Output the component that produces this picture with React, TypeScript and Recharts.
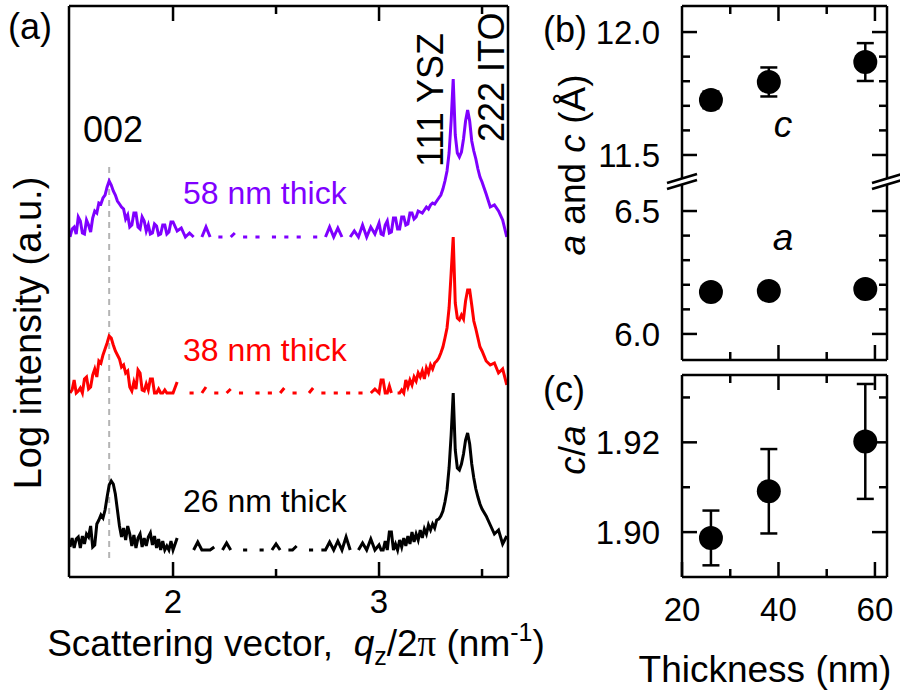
import React from 'react';
import {
  LineChart,
  Line,
  XAxis,
  YAxis,
  ReferenceLine,
  ScatterChart,
  Scatter,
  ErrorBar,
} from 'recharts';

const FONT = '"Liberation Sans", Arial, Helvetica, sans-serif';
const W = 900;
const H = 693;
const INK = '#000';
const PURPLE = '#7f00ff';
const RED = '#ff0000';

// ---------- (a) XRD scans: log intensity above background, null = zero counts ----------
const qValues = [
  // 1.50 - 2.00
  1.5, 1.51, 1.52, 1.53, 1.54, 1.55, 1.56, 1.57, 1.58, 1.59,
  1.6, 1.61, 1.62, 1.63, 1.64, 1.65, 1.66, 1.67, 1.68, 1.69,
  1.7, 1.71, 1.72, 1.73, 1.74, 1.75, 1.76, 1.77, 1.78, 1.79,
  1.8, 1.81, 1.82, 1.83, 1.84, 1.85, 1.86, 1.87, 1.88, 1.89,
  1.9, 1.91, 1.92, 1.93, 1.94, 1.95, 1.96, 1.97, 1.98, 1.99, 2.0,
  // 2.02 - 2.98
  2.02, 2.04, 2.06, 2.08, 2.1, 2.12, 2.14, 2.16, 2.18, 2.2,
  2.22, 2.24, 2.26, 2.28, 2.3, 2.32, 2.34, 2.36, 2.38, 2.4,
  2.42, 2.44, 2.46, 2.48, 2.5, 2.52, 2.54, 2.56, 2.58, 2.6,
  2.62, 2.64, 2.66, 2.68, 2.7, 2.72, 2.74, 2.76, 2.78, 2.8,
  2.82, 2.84, 2.86, 2.88, 2.9, 2.92, 2.94, 2.96, 2.98,
  // 3.00 - 3.50
  3.0, 3.01, 3.02, 3.03, 3.04, 3.05, 3.06, 3.07, 3.08, 3.09,
  3.1, 3.11, 3.12, 3.13, 3.14, 3.15, 3.16, 3.17, 3.18, 3.19,
  3.2, 3.21, 3.22, 3.23, 3.24, 3.25, 3.26, 3.27, 3.28,
  3.29, 3.3, 3.31, 3.32, 3.33, 3.34, 3.35, 3.36, 3.37, 3.38, 3.39,
  3.4, 3.41, 3.42, 3.43, 3.44, 3.45, 3.46, 3.47, 3.48, 3.49, 3.5,
  // 3.52 - 3.62
  3.52, 3.54, 3.56, 3.58, 3.6, 3.62,
];

const logI26 = [
  0.3, 1.2, 0.2, 1.1, 1.3, 0.2, 1.4, 0.6, 1.6, 1.3,
  2.4, 0.3, 0.5, 2.6, 3.0, 3.5, 3.2, 4.0, 5.3, 6.5,
  6.9, 6.6, 5.6, 4.0, 2.4, 1.3, 2.2, 1.0, 2.4, 1.6,
  0.4, 1.5, 0.2, 1.2, 1.6, 0.3, 1.2, 0.4, 1.3, 1.7,
  0.5, 1.4, 0.2, 1.1, 0, 0.9, 0, 0.4, 0, 0.9, 0,

  1.2, null, null, null, 0, 0.8, 0, 0, 0, 0.3,
  null, 0, 0.7, 0, null, null, 0, 0, null, null,
  0, 0, null, 0, 0.6, 0, null, 0, 0, 0.4,
  null, null, 0, 0, null, 0, 0, 0.8, 0, 0.9,
  0, 1.3, 0, null, 0, 0.7, 0, 1.1, 0,

  0.5, 0, 0, 0.9, 0, 1.8, 1.8, 0, 0.6, 0,
  1.0, 0.3, 1.2, 0.4, 1.4, 0.6, 1.8, 0.8, 1.6, 1.0,
  2.0, 1.2, 2.1, 1.6, 2.5, 2.0, 2.6, 2.2, 3.0,
  3.1, 3.4, 3.9, 4.8, 6.0, 8.2, 11.5, 15.7, 10.0, 8.2, 8.0,
  8.6, 9.6, 11.0, 11.7, 10.6, 8.6, 7.2, 6.1, 5.3, 4.6, 4.1,

  3.4, 2.5, 1.6, 2.0, 0.6, 1.4,
];

const logI38 = [
  0, 0.3, 1.3, 0, 0.2, 0.5, 0, 1.4, 1.6, 0.4,
  0.6, 1.8, 2.4, 1.6, 3.2, 3.0, 3.8, 4.4, 5.0, 5.7,
  5.5, 4.8, 4.2, 3.8, 3.4, 2.6, 2.8, 2.0, 2.2, 0.6,
  0.2, 1.1, 0.4, 2.3, 2.0, 0.3, 0.2, 0.9, 0.3, 1.4,
  1.4, 0, 0, 0.4, 0, 0, 0.3, 0, 0, 0, 0,

  1.1, null, null, 0, 0, null, 0, 0.6, null, 0,
  0, null, 0, 0.4, null, 0, 0, null, null, 0,
  0, null, 0, 0, null, 0, 0.5, null, 0, 0,
  null, null, 0, 0.5, null, 0, 0, null, 0, 0,
  null, 0, 0, null, 0, 0, null, 0, 0.4,

  0, 1.3, 1.3, 0, 0, 0.7, 0, null, null, 0,
  0, 0.3, 0, 1.3, 0.6, 1.3, 0.8, 1.6, 1.2, 2.0,
  1.6, 2.2, 1.4, 2.5, 2.0, 2.8, 2.4, 3.0, 3.2,
  3.5, 4.0, 4.6, 5.5, 6.5, 8.5, 12.0, 15.6, 9.0, 7.5, 7.3,
  7.8, 7.4, 9.2, 10.3, 10.3, 8.8, 7.2, 6.4, 5.5, 4.6, 4.2,

  3.2, 2.8, 3.0, 2.0, 2.4, 0.8,
];

const logI58 = [
  0, 0.8, 1.0, 0.3, 2.0, 1.6, 0.4, 0.3, 1.7, 1.2,
  0.5, 1.9, 2.6, 2.4, 3.4, 3.3, 3.9, 4.2, 5.0, 5.6,
  5.2, 4.6, 4.2, 3.6, 3.3, 3.0, 2.8, 1.8, 2.2, 1.0,
  1.2, 2.4, 2.4, 1.0, 0.8, 2.0, 1.6, 0.6, 1.2, 0.3,
  0.4, 1.3, 1.1, 0.2, 0.3, 1.2, 1.2, 0.3, 0.5, 1.5, 1.5,

  0.6, 0.9, 0, 0.4, 0, null, 0, 1.0, 0, null,
  0, 0, null, 0, 0.4, null, 0, 0, null, 0,
  0, null, null, 0, 0, null, 0, 0, null, 0,
  0, null, null, 0, 0, null, 0, 1.0, 0, 0.9,
  0, null, 0, 0.6, 0, 1.2, 0, 1.0, 0.3,

  1.4, 0.3, 0.2, 1.2, 1.6, 0.4, 0.5, 1.9, 1.9, 0.8,
  0.8, 2.0, 2.0, 1.2, 1.3, 2.4, 2.4, 1.8, 2.0, 2.6,
  2.5, 2.4, 2.7, 3.0, 2.8, 3.2, 3.4, 3.3, 3.6,
  3.9, 4.2, 4.8, 5.6, 6.6, 8.4, 11.6, 15.8, 10.2, 8.4, 8.0,
  8.5, 9.8, 11.6, 12.7, 11.6, 9.6, 8.6, 7.8, 6.8, 6.0, 5.5,

  4.3, 3.0, 3.2, 2.6, 1.7, 0,
];

// vertical offsets used to stack the three scans
const offset26 = 2.7;
const offset38 = 18.4;
const offset58 = 34.0;

const qDomain = [1.495, 3.626];
const intensityDomain = [0, 57.1];
const qTicks = [2, 2.5, 3, 3.5];
const qLabels = [2, 3];
const peak002 = 1.69;
const guideSpan = [1.9, 41.2];

// ---------- (b) lattice parameters, (c) c/a ----------
const thickness = [26, 38, 58];
const cLattice = [11.724, 11.797, 11.878];
const cLatticeErr = [0.034, 0.059, 0.077];
const aLattice = [6.171, 6.175, 6.183];
const caRatio = [1.8987, 1.9091, 1.9202];
const caRatioErr = [0.0061, 0.0094, 0.0128];

const thicknessDomain = [20, 62.5];
const thicknessTicks = [20, 30, 40, 50, 60];
const thicknessLabels = [20, 40, 60];

// broken axis: c values are drawn shifted down so both ranges share one axis
const C_SHIFT = 4.772;
const BREAK_AT = 6.62;
const latticeDomain = [5.894, 7.334];
const aTicks = [6.0, 6.1, 6.2, 6.3, 6.4, 6.5];
const cTicks = [11.5, 11.6, 11.7, 11.8, 11.9, 12.0];
const latticeLabels = [6.0, 6.5, 11.5, 12.0];

const ratioDomain = [1.89, 1.935];
const ratioTicks = [1.9, 1.91, 1.92, 1.93];
const ratioLabels = [1.9, 1.92];

const spectraRows = qValues.map((q, i) => ({
  q,
  s26: logI26[i] == null ? null : (logI26[i] as number) + offset26,
  s38: logI38[i] == null ? null : (logI38[i] as number) + offset38,
  s58: logI58[i] == null ? null : (logI58[i] as number) + offset58,
}));

const cRows = thickness.map((t, i) => ({ t, v: cLattice[i] - C_SHIFT, err: cLatticeErr[i] }));
const aRows = thickness.map((t, i) => ({ t, v: aLattice[i] }));
const ratioRows = thickness.map((t, i) => ({ t, v: caRatio[i], err: caRatioErr[i] }));
const latticeTickValues = [...aTicks, ...cTicks.map((v) => v - C_SHIFT)];

const has = (list: number[], v: number) => list.some((m) => Math.abs(m - v) < 1e-6);

const MAJOR = 15;
const MINOR = 8;
const AX_W = 2.5;

// custom ticks: tick marks point into the plot, labels outside
function xTick(side: 'top' | 'bottom', majors: number[], labels: number[], labelDrop = 38) {
  return (props: any) => {
    const { x, y, payload } = props;
    const v = payload.value as number;
    const len = has(majors, v) ? MAJOR : MINOR;
    const dir = side === 'bottom' ? -1 : 1;
    return (
      <g>
        <line x1={x} x2={x} y1={y} y2={y + dir * len} stroke={INK} strokeWidth={AX_W} />
        {side === 'bottom' && has(labels, v) && (
          <text x={x} y={y + labelDrop} textAnchor="middle" fontSize={33} fontFamily={FONT} fill={INK}>
            {String(v)}
          </text>
        )}
      </g>
    );
  };
}

function yTick(side: 'left' | 'right', labels: number[], toReal: (v: number) => number, digits: number) {
  return (props: any) => {
    const { x, y, payload } = props;
    const real = toReal(payload.value as number);
    const major = has(labels, real);
    const len = major ? MAJOR : MINOR;
    const dir = side === 'left' ? 1 : -1;
    return (
      <g>
        <line x1={x} x2={x + dir * len} y1={y} y2={y} stroke={INK} strokeWidth={AX_W} />
        {side === 'left' && major && (
          <text x={x - 22} y={y} dy="0.36em" textAnchor="end" fontSize={33} fontFamily={FONT} fill={INK}>
            {real.toFixed(digits)}
          </text>
        )}
      </g>
    );
  };
}

const dot = (props: any) => <circle cx={props.cx} cy={props.cy} r={12} fill={INK} />;
const axisLine = { stroke: INK, strokeWidth: AX_W };

function ScanPanel() {
  return (
    <LineChart
      width={W}
      height={H}
      data={spectraRows}
      margin={{ top: 5, left: 68, right: W - 508 - 1, bottom: H - 577 - 1 }}
    >
      <XAxis xAxisId="b" dataKey="q" type="number" domain={qDomain} allowDataOverflow ticks={qTicks} interval={0}
        height={1} tickSize={0} tickMargin={0} tickLine={false} axisLine={axisLine} tick={xTick('bottom', qLabels, qLabels, 36)} />
      <XAxis xAxisId="t" orientation="top" dataKey="q" type="number" domain={qDomain} allowDataOverflow ticks={qTicks} interval={0}
        height={1} tickSize={0} tickMargin={0} tickLine={false} axisLine={axisLine} tick={xTick('top', qLabels, [])} />
      <YAxis yAxisId="l" type="number" domain={intensityDomain} allowDataOverflow width={1} tick={false} tickLine={false} axisLine={axisLine} />
      <YAxis yAxisId="r" orientation="right" type="number" domain={intensityDomain} allowDataOverflow width={1} tick={false} tickLine={false} axisLine={axisLine} />
      <ReferenceLine
        xAxisId="b"
        yAxisId="l"
        segment={[{ x: peak002, y: guideSpan[0] }, { x: peak002, y: guideSpan[1] }]}
        stroke="#b4b4b4"
        strokeWidth={2}
        strokeDasharray="6 5"
        ifOverflow="visible"
      />
      <Line xAxisId="b" yAxisId="l" dataKey="s26" stroke={INK} strokeWidth={3} dot={false} isAnimationActive={false} connectNulls={false} />
      <Line xAxisId="b" yAxisId="l" dataKey="s38" stroke={RED} strokeWidth={3} dot={false} isAnimationActive={false} connectNulls={false} />
      <Line xAxisId="b" yAxisId="l" dataKey="s58" stroke={PURPLE} strokeWidth={3} dot={false} isAnimationActive={false} connectNulls={false} />
    </LineChart>
  );
}

function LatticePanel() {
  const toReal = (v: number) => (v > BREAK_AT ? v + C_SHIFT : v);
  const gap = 0.0122;
  const sx = 3.11;
  const sy = 0.0183;
  const edges = [thicknessDomain[0], thicknessDomain[1]];
  return (
    <ScatterChart width={W} height={H} margin={{ top: 5, left: 681, right: W - 887 - 1, bottom: H - 360 - 1 }}>
      <XAxis xAxisId="b" dataKey="t" type="number" domain={thicknessDomain} allowDataOverflow ticks={thicknessTicks.slice(1)} interval={0}
        height={1} tickSize={0} tickMargin={0} tickLine={false} axisLine={axisLine} tick={xTick('bottom', thicknessLabels, [])} />
      <XAxis xAxisId="t" orientation="top" dataKey="t" type="number" domain={thicknessDomain} allowDataOverflow ticks={thicknessTicks.slice(1)} interval={0}
        height={1} tickSize={0} tickMargin={0} tickLine={false} axisLine={axisLine} tick={xTick('top', thicknessLabels, [])} />
      <YAxis yAxisId="l" dataKey="v" type="number" domain={latticeDomain} allowDataOverflow ticks={latticeTickValues} interval={0}
        width={1} tickSize={0} tickMargin={0} tickLine={false} axisLine={false} tick={yTick('left', latticeLabels, toReal, 1)} />
      <YAxis yAxisId="r" orientation="right" dataKey="v" type="number" domain={latticeDomain} allowDataOverflow ticks={latticeTickValues} interval={0}
        width={1} tickSize={0} tickMargin={0} tickLine={false} axisLine={false} tick={yTick('right', latticeLabels, toReal, 1)} />
      {edges.map((x) => (
        <ReferenceLine key={`hi${x}`} xAxisId="b" yAxisId="l" ifOverflow="visible" stroke={INK} strokeWidth={AX_W}
          segment={[{ x, y: latticeDomain[1] }, { x, y: BREAK_AT + gap }]} />
      ))}
      {edges.map((x) => (
        <ReferenceLine key={`lo${x}`} xAxisId="b" yAxisId="l" ifOverflow="visible" stroke={INK} strokeWidth={AX_W}
          segment={[{ x, y: BREAK_AT - gap }, { x, y: latticeDomain[0] }]} />
      ))}
      {edges.map((x) =>
        [BREAK_AT + gap, BREAK_AT - gap].map((c) => (
          <ReferenceLine key={`br${x}${c}`} xAxisId="b" yAxisId="l" ifOverflow="visible" stroke={INK} strokeWidth={AX_W}
            segment={[{ x: x - sx, y: c - sy }, { x: x + sx, y: c + sy }]} />
        ))
      )}
      <Scatter xAxisId="b" yAxisId="l" data={cRows} dataKey="v" shape={dot} isAnimationActive={false}>
        <ErrorBar dataKey="err" direction="y" width={8.5} stroke={INK} strokeWidth={2.5} isAnimationActive={false} />
      </Scatter>
      <Scatter xAxisId="b" yAxisId="l" data={aRows} dataKey="v" shape={dot} isAnimationActive={false} />
    </ScatterChart>
  );
}

function RatioPanel() {
  const same = (v: number) => v;
  return (
    <ScatterChart width={W} height={H} margin={{ top: 374, left: 681, right: W - 887 - 1, bottom: H - 577 - 1 }}>
      <XAxis xAxisId="b" dataKey="t" type="number" domain={thicknessDomain} allowDataOverflow ticks={thicknessTicks} interval={0}
        height={1} tickSize={0} tickMargin={0} tickLine={false} axisLine={axisLine} tick={xTick('bottom', thicknessLabels, thicknessLabels, 44)} />
      <XAxis xAxisId="t" orientation="top" dataKey="t" type="number" domain={thicknessDomain} allowDataOverflow ticks={thicknessTicks.slice(1)} interval={0}
        height={1} tickSize={0} tickMargin={0} tickLine={false} axisLine={axisLine} tick={xTick('top', thicknessLabels, [])} />
      <YAxis yAxisId="l" dataKey="v" type="number" domain={ratioDomain} allowDataOverflow ticks={ratioTicks} interval={0}
        width={1} tickSize={0} tickMargin={0} tickLine={false} axisLine={axisLine} tick={yTick('left', ratioLabels, same, 2)} />
      <YAxis yAxisId="r" orientation="right" dataKey="v" type="number" domain={ratioDomain} allowDataOverflow ticks={ratioTicks} interval={0}
        width={1} tickSize={0} tickMargin={0} tickLine={false} axisLine={axisLine} tick={yTick('right', ratioLabels, same, 2)} />
      <Scatter xAxisId="b" yAxisId="l" data={ratioRows} dataKey="v" shape={dot} isAnimationActive={false}>
        <ErrorBar dataKey="err" direction="y" width={8.5} stroke={INK} strokeWidth={2.5} isAnimationActive={false} />
      </Scatter>
    </ScatterChart>
  );
}

function Annotations() {
  const it = { fontStyle: 'italic' as const };
  return (
    <svg width={W} height={H} style={{ position: 'absolute', left: 0, top: 0, pointerEvents: 'none' }} fontFamily={FONT} fill={INK}>
      <text x={8} y={39} fontSize={36}>(a)</text>
      <text x={543} y={42} fontSize={36}>(b)</text>
      <text x={543} y={402} fontSize={36}>(c)</text>

      <text x={113} y={142} fontSize={36} textAnchor="middle">002</text>
      <text x={183} y={204} fontSize={32} fill={PURPLE}>58 nm thick</text>
      <text x={183} y={361} fontSize={32} fill={RED}>38 nm thick</text>
      <text x={183} y={512} fontSize={32}>26 nm thick</text>
      <text transform="translate(443,167) rotate(-90)" fontSize={36}>111 YSZ</text>
      <text transform="translate(504,142) rotate(-90)" fontSize={36}>222 ITO</text>

      <text transform="translate(41,333) rotate(-90)" fontSize={38} textAnchor="middle">Log intensity (a.u.)</text>
      <text x={296} y={656} fontSize={37} textAnchor="middle">
        Scattering vector,{'\u00a0\u00a0'}
        <tspan {...it}>q</tspan>
        <tspan fontSize={25} dy={9}>z</tspan>
        <tspan dy={-9}>/2</tspan>
        <tspan fontFamily='"Liberation Serif", serif'>π</tspan>
        <tspan>{' (nm'}</tspan>
        <tspan fontSize={25} dy={-15}>-1</tspan>
        <tspan dy={15}>)</tspan>
      </text>

      <text transform="translate(585,165) rotate(-90)" fontSize={37} textAnchor="middle">
        <tspan {...it}>a</tspan> and <tspan {...it}>c</tspan> (Å)
      </text>
      <text transform="translate(585,450) rotate(-90)" fontSize={37} textAnchor="middle">
        <tspan {...it}>c</tspan>/<tspan {...it}>a</tspan>
      </text>
      <text x={765} y={682} fontSize={37} textAnchor="middle">Thickness (nm)</text>
      <text x={783} y={137} fontSize={37} textAnchor="middle" {...it}>c</text>
      <text x={783} y={250} fontSize={37} textAnchor="middle" {...it}>a</text>
    </svg>
  );
}

export default function App() {
  return (
    <div style={{ position: 'absolute', left: 0, top: 0, width: W, height: H, background: '#fff', fontFamily: FONT }}>
      <div style={{ position: 'absolute', left: 0, top: 0 }}>
        <ScanPanel />
      </div>
      <div style={{ position: 'absolute', left: 0, top: 0 }}>
        <LatticePanel />
      </div>
      <div style={{ position: 'absolute', left: 0, top: 0 }}>
        <RatioPanel />
      </div>
      <Annotations />
    </div>
  );
}
